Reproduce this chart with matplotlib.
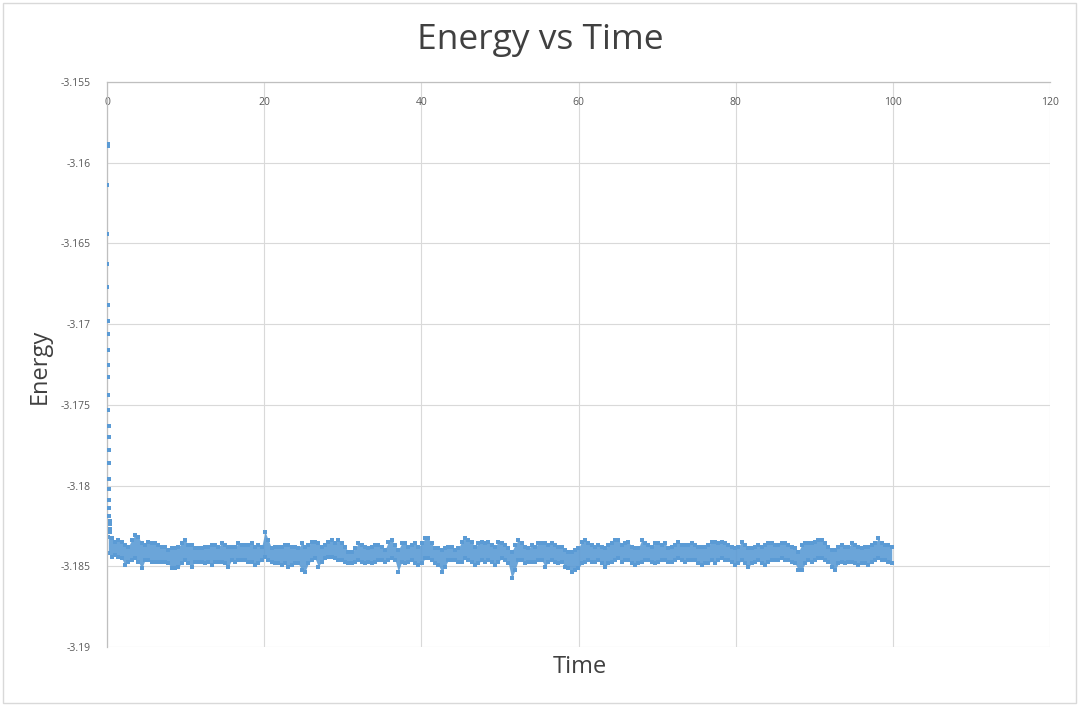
import numpy as np
import matplotlib
matplotlib.use("Agg")
import matplotlib.pyplot as plt
from matplotlib.patches import Rectangle

plt.rcParams['font.family'] = ['Open Sans', 'DejaVu Sans']

# ---------------- data ----------------
# initial relaxation points
drop_time = [0.0, 0.015, 0.03, 0.045, 0.06, 0.075, 0.09, 0.105, 0.12, 0.135,
             0.15, 0.165, 0.18, 0.195, 0.21, 0.225, 0.24, 0.255, 0.27, 0.285,
             0.30, 0.315, 0.33, 0.345, 0.36, 0.375]
drop_energy = [-3.1589, -3.1614, -3.1644, -3.1663, -3.1677, -3.1688, -3.1698,
               -3.1706, -3.1716, -3.1725, -3.1733, -3.1744, -3.1753, -3.1763,
               -3.1770, -3.1778, -3.1786, -3.1796, -3.1802, -3.1809, -3.1814,
               -3.1819, -3.1822, -3.1824, -3.1827, -3.1829]

# fluctuating band: upper / lower envelope sampled along time
band_hi = [
    -3.18317, -3.18327, -3.18348, -3.18337, -3.18348, -3.18368, -3.18379, -3.18337, -3.18306, -3.18317,
    -3.18358, -3.18368, -3.18348, -3.18358, -3.18358, -3.18368, -3.18379, -3.18379, -3.18399, -3.18389,
    -3.18389, -3.18379, -3.18358, -3.18337, -3.18368, -3.18368, -3.18389, -3.18389,
    -3.18389, -3.18379, -3.18379, -3.18368, -3.18368, -3.18379, -3.18358, -3.18368, -3.18379, -3.18379,
    -3.18379, -3.18358, -3.18368, -3.18368, -3.18368, -3.18358, -3.18379, -3.18368, -3.18379, -3.18286,
    -3.18337, -3.18389, -3.18379, -3.18379, -3.18379, -3.18368, -3.18368, -3.18379, -3.18379, -3.18389,
    -3.18358, -3.18379, -3.18368, -3.18348, -3.18348, -3.18358, -3.18379, -3.18368, -3.18348, -3.18337,
    -3.18358, -3.18337, -3.18358, -3.18379, -3.18410, -3.18410, -3.18389, -3.18358, -3.18368, -3.18379,
    -3.18389, -3.18379, -3.18368, -3.18368, -3.18379, -3.18399, -3.18348, -3.18337, -3.18368, -3.18399,
    -3.18358, -3.18358, -3.18379, -3.18368, -3.18358, -3.18379, -3.18358, -3.18327, -3.18327, -3.18358,
    -3.18389, -3.18389, -3.18399, -3.18389, -3.18379, -3.18379, -3.18399, -3.18389, -3.18348, -3.18327,
    -3.18337, -3.18348, -3.18379, -3.18358, -3.18348, -3.18358, -3.18348, -3.18368, -3.18379, -3.18348,
    -3.18358, -3.18368, -3.18389, -3.18410, -3.18368, -3.18337, -3.18358, -3.18379, -3.18389, -3.18368,
    -3.18379, -3.18358, -3.18358, -3.18358, -3.18368, -3.18358, -3.18368, -3.18379, -3.18379, -3.18399,
    -3.18410, -3.18410, -3.18399, -3.18389, -3.18348, -3.18337, -3.18358, -3.18368, -3.18379, -3.18368,
    -3.18379, -3.18389, -3.18368, -3.18358, -3.18337, -3.18337, -3.18368, -3.18358, -3.18348, -3.18379,
    -3.18389, -3.18389, -3.18337, -3.18358, -3.18368, -3.18379, -3.18358, -3.18358, -3.18368, -3.18358,
    -3.18389, -3.18379, -3.18368, -3.18348, -3.18368, -3.18368, -3.18368, -3.18358, -3.18368, -3.18379,
    -3.18379, -3.18379, -3.18368, -3.18348, -3.18348, -3.18358, -3.18348, -3.18358, -3.18368, -3.18379,
    -3.18389, -3.18379, -3.18348, -3.18368, -3.18389, -3.18389, -3.18379, -3.18368, -3.18379, -3.18368,
    -3.18358, -3.18358, -3.18368, -3.18368, -3.18358, -3.18358, -3.18368, -3.18379, -3.18389, -3.18410,
    -3.18368, -3.18358, -3.18358, -3.18358, -3.18348, -3.18337, -3.18337, -3.18358, -3.18379, -3.18399,
    -3.18399, -3.18379, -3.18368, -3.18379, -3.18379, -3.18358, -3.18368, -3.18379, -3.18389, -3.18379,
    -3.18379, -3.18368, -3.18358, -3.18327, -3.18358, -3.18368, -3.18368, -3.18379,
]
band_lo = [
    -3.18420, -3.18440, -3.18430, -3.18440, -3.18451, -3.18492, -3.18471, -3.18461, -3.18451, -3.18471,
    -3.18513, -3.18461, -3.18461, -3.18471, -3.18471, -3.18471, -3.18471, -3.18471, -3.18482, -3.18513,
    -3.18513, -3.18502, -3.18482, -3.18461, -3.18482, -3.18502, -3.18471, -3.18471,
    -3.18471, -3.18482, -3.18471, -3.18492, -3.18471, -3.18471, -3.18471, -3.18482, -3.18502, -3.18461,
    -3.18471, -3.18461, -3.18461, -3.18461, -3.18471, -3.18471, -3.18492, -3.18482, -3.18461, -3.18440,
    -3.18461, -3.18471, -3.18482, -3.18482, -3.18492, -3.18482, -3.18502, -3.18492, -3.18482, -3.18482,
    -3.18523, -3.18533, -3.18482, -3.18461, -3.18451, -3.18502, -3.18471, -3.18451, -3.18440, -3.18440,
    -3.18451, -3.18461, -3.18461, -3.18471, -3.18482, -3.18482, -3.18471, -3.18461, -3.18471, -3.18482,
    -3.18471, -3.18482, -3.18471, -3.18461, -3.18461, -3.18471, -3.18461, -3.18451, -3.18461, -3.18533,
    -3.18471, -3.18482, -3.18471, -3.18461, -3.18482, -3.18492, -3.18482, -3.18451, -3.18451, -3.18461,
    -3.18482, -3.18492, -3.18533, -3.18502, -3.18461, -3.18461, -3.18461, -3.18471, -3.18471, -3.18451,
    -3.18461, -3.18471, -3.18492, -3.18482, -3.18461, -3.18471, -3.18461, -3.18471, -3.18492, -3.18471,
    -3.18451, -3.18461, -3.18482, -3.18575, -3.18523, -3.18461, -3.18461, -3.18482, -3.18471, -3.18471,
    -3.18471, -3.18461, -3.18461, -3.18502, -3.18471, -3.18461, -3.18471, -3.18482, -3.18471, -3.18502,
    -3.18513, -3.18533, -3.18523, -3.18513, -3.18482, -3.18471, -3.18461, -3.18471, -3.18471, -3.18461,
    -3.18482, -3.18502, -3.18482, -3.18471, -3.18461, -3.18451, -3.18471, -3.18461, -3.18461, -3.18482,
    -3.18492, -3.18482, -3.18471, -3.18461, -3.18461, -3.18471, -3.18482, -3.18471, -3.18461, -3.18461,
    -3.18471, -3.18471, -3.18461, -3.18451, -3.18461, -3.18471, -3.18461, -3.18461, -3.18461, -3.18482,
    -3.18492, -3.18482, -3.18482, -3.18461, -3.18482, -3.18461, -3.18451, -3.18461, -3.18461, -3.18471,
    -3.18492, -3.18482, -3.18461, -3.18482, -3.18502, -3.18482, -3.18471, -3.18461, -3.18482, -3.18492,
    -3.18471, -3.18461, -3.18461, -3.18461, -3.18451, -3.18461, -3.18461, -3.18471, -3.18482, -3.18523,
    -3.18523, -3.18482, -3.18461, -3.18471, -3.18461, -3.18451, -3.18451, -3.18461, -3.18471, -3.18502,
    -3.18523, -3.18482, -3.18471, -3.18482, -3.18471, -3.18471, -3.18482, -3.18492, -3.18482, -3.18482,
    -3.18492, -3.18471, -3.18461, -3.18451, -3.18461, -3.18461, -3.18471, -3.18482,
]
# sample grid along time for the band envelopes
band_time = np.linspace(0.17, 99.86, len(band_hi))

x_ticks = [0, 20, 40, 60, 80, 100, 120]
y_ticks = [-3.155, -3.16, -3.165, -3.17, -3.175, -3.18, -3.185, -3.19]
y_tick_labels = ["-3.155", "-3.16", "-3.165", "-3.17", "-3.175", "-3.18", "-3.185", "-3.19"]

# ---------------- figure ----------------
W, H = 1079, 706
fig = plt.figure(figsize=(W / 100, H / 100), dpi=100)
fig.patch.set_facecolor("white")
fig.add_artist(Rectangle((2.5 / W, 3.5 / H), (W - 6) / W, (H - 6.5) / H,
                         transform=fig.transFigure, fill=False,
                         edgecolor="#D9D9D9", linewidth=1.0))

ax = fig.add_axes([107 / W, (H - 647) / H, 943 / W, 565 / H])
blue = "#5B9BD5"

ax.fill_between(band_time, band_lo, band_hi, color=blue, alpha=0.9,
                linewidth=0, zorder=3)
ax.scatter(band_time, band_hi, s=5, marker="s", color=blue, linewidths=0, zorder=3)
ax.scatter(band_time, band_lo, s=5, marker="s", color=blue, linewidths=0, zorder=3)
ax.scatter(drop_time, drop_energy, s=6, marker="s", color=blue, linewidths=0, zorder=5)
ax.scatter(drop_time[:1], drop_energy[:1], s=14, marker="s", color=blue, linewidths=0, zorder=5)

ax.set_xlim(0, 120)
ax.set_ylim(-3.19, -3.155)
ax.set_xticks(x_ticks)
ax.set_yticks(y_ticks)
ax.set_yticklabels(y_tick_labels)

ax.grid(True, color="#D9D9D9", linewidth=0.8, zorder=0)
ax.set_axisbelow(True)
for side in ["right", "bottom"]:
    ax.spines[side].set_visible(False)
for side in ["left", "top"]:
    ax.spines[side].set_color("#BFBFBF")
    ax.spines[side].set_linewidth(0.9)
    ax.spines[side].set_zorder(4)

ax.xaxis.tick_top()
ax.tick_params(axis="x", length=0, pad=-19, labelsize=7.5, labelcolor="#595959")
for lbl in ax.get_xticklabels():
    lbl.set_verticalalignment("bottom")
ax.tick_params(axis="y", length=0, pad=12, labelsize=7.5, labelcolor="#595959")

fig.text(540 / W, 1 - 40 / H, "Energy vs Time", ha="center", va="center",
         fontsize=25.5, color="#404040")
fig.text(580 / W, 1 - 667 / H, "Time", ha="center", va="center",
         fontsize=17, color="#404040")
fig.text(40 / W, 1 - 366 / H, "Energy", ha="center", va="center",
         fontsize=17, color="#404040", rotation=90)

fig.savefig("out.png", dpi=100)
